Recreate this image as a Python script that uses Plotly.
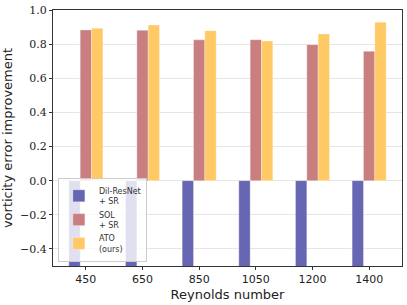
import plotly.graph_objects as go

categories = ["450", "650", "850", "1050", "1200", "1400"]
dil_resnet = [-1.0, -1.0, -1.0, -1.0, -1.0, -1.0]
sol = [0.883, 0.881, 0.825, 0.826, 0.797, 0.758]
ato = [0.893, 0.912, 0.879, 0.819, 0.860, 0.928]
names = ["Dil-ResNet<br>+ SR", "SOL<br>+ SR", "ATO<br>(ours)"]
colors = ["#6666b2", "#c97f7f", "#ffc966"]

fig = go.Figure()
for vals, name, col in zip([dil_resnet, sol, ato], names, colors):
    fig.add_trace(go.Bar(
        x=categories, y=vals, name=name,
        marker=dict(color=col, line=dict(color="rgba(255,255,255,0.6)", width=0.5)),
    ))

axis_common = dict(
    showline=True, linecolor="#333333", linewidth=1.2, mirror=True,
    ticks="outside", ticklen=3, tickcolor="#333333",
)

fig.update_layout(
    width=407, height=305,
    margin=dict(l=53, r=4, t=8, b=39),
    paper_bgcolor="white", plot_bgcolor="white",
    barmode="group", bargap=0.4, bargroupgap=0,
    xaxis=dict(
        type="category", range=[-0.58, 5.58],
        title=dict(text="Reynolds number", font=dict(family="DejaVu Sans", size=13, color="#222"), standoff=4),
        tickfont=dict(family="DejaVu Sans", size=11, color="#222"),
        showgrid=False, **axis_common,
    ),
    yaxis=dict(
        range=[-0.5, 1.0], tickvals=[-0.4, -0.2, 0.0, 0.2, 0.4, 0.6, 0.8, 1.0],
        tickformat=".1f",
        title=dict(text="vorticity error improvement", font=dict(family="DejaVu Sans", size=13, color="#222"), standoff=4),
        tickfont=dict(family="DejaVu Serif", size=11, color="#222"),
        showgrid=True, gridcolor="#e6e6e6", gridwidth=1,
        zeroline=True, zerolinecolor="#e6e6e6", zerolinewidth=1,
        **axis_common,
    ),
    legend=dict(
        x=0.014, y=0.016, xanchor="left", yanchor="bottom",
        bgcolor="rgba(255,255,255,0.8)", bordercolor="#cccccc", borderwidth=1,
        font=dict(family="DejaVu Sans", size=8, color="#333"),
        itemwidth=30, tracegroupgap=0,
    ),
)

fig.write_html("out.html", config={"displayModeBar": False},
               post_script="document.body.style.margin='0';")
